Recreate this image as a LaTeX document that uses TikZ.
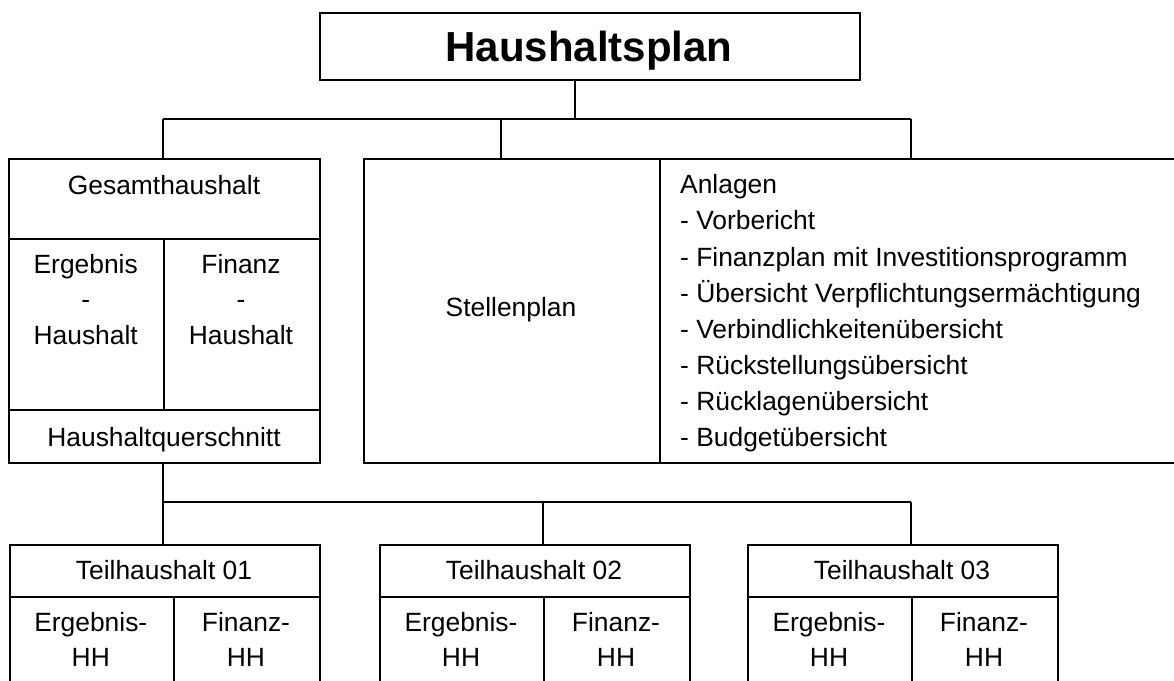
\documentclass[tikz,border=0pt]{standalone}
\usepackage{fontspec}
\setmainfont{Liberation Sans}
\tikzset{
  cell/.style={draw, line width=1.8pt, rectangle, inner sep=0pt, anchor=north west},
  conn/.style={line width=1.8pt},
  lbl/.style={inner sep=0pt, anchor=base, font=\fontsize{26.4}{32}\selectfont},
  lbll/.style={inner sep=0pt, anchor=base west, font=\fontsize{26.4}{32}\selectfont},
  ttl/.style={inner sep=0pt, anchor=base, font=\fontsize{42}{50}\selectfont\bfseries},
}
\begin{document}
\begin{tikzpicture}[x=1pt,y=-1pt]
\useasboundingbox (0,0) rectangle (1174,680);
% title
\node[cell, minimum width=540.3pt, minimum height=67.3pt] (title) at (319,12) {};
\node[ttl] (tTitle) at (589,61.7) {Haushaltsplan};
% Gesamthaushalt block
\node[cell, minimum width=310.7pt, minimum height=80pt]    (gtop) at (8.3,157.7) {};
\node[cell, minimum width=154.7pt, minimum height=171.3pt] (gl)   at (8.3,237.7) {};
\node[cell, minimum width=156pt,   minimum height=171.3pt] (gr)   at (163,237.7) {};
\node[cell, minimum width=310.7pt, minimum height=52.7pt]  (gbot) at (8.3,409) {};
\node[lbl] (tGes)  at (164,194.3) {Gesamthaushalt};
\node[lbl] (tEl1)  at (85.7,273.3) {Ergebnis};
\node[lbl] (tEl2)  at (85.7,308.7) {-};
\node[lbl] (tEl3)  at (85.7,344) {Haushalt};
\node[lbl] (tFr1)  at (241,273.3) {Finanz};
\node[lbl] (tFr2)  at (241,308.7) {-};
\node[lbl] (tFr3)  at (241,344) {Haushalt};
\node[lbl] (tQuer) at (164,446) {Haushaltquerschnitt};
% Stellenplan / Anlagen
\node[cell, minimum width=296.3pt, minimum height=304pt] (stell) at (362.7,157.7) {};
\node[cell, minimum width=530pt,   minimum height=304pt] (anl)   at (659,157.7) {};
\node[lbl] (tStell) at (511,316.7) {Stellenplan};
\node[lbll] (a0) at (680,193.8) {Anlagen};
\node[lbll] (a1) at (680,229.9) {- Vorbericht};
\node[lbll] (a2) at (680,266.0) {- Finanzplan mit Investitionsprogramm};
\node[lbll] (a3) at (680,302.1) {- Übersicht Verpflichtungsermächtigung};
\node[lbll] (a4) at (680,338.2) {- Verbindlichkeitenübersicht};
\node[lbll] (a5) at (680,374.3) {- Rückstellungsübersicht};
\node[lbll] (a6) at (680,410.4) {- Rücklagenübersicht};
\node[lbll] (a7) at (680,446.5) {- Budgetübersicht};
% Teilhaushalte
\node[cell, minimum width=310.6pt, minimum height=51.7pt] (t1top) at (8.7,544) {};
\node[cell, minimum width=164.3pt, minimum height=110pt]  (t1l)   at (8.7,595.7) {};
\node[cell, minimum width=146.3pt, minimum height=110pt]  (t1r)   at (173,595.7) {};
\node[cell, minimum width=310.3pt, minimum height=51.7pt] (t2top) at (379,544) {};
\node[cell, minimum width=164pt,   minimum height=110pt]  (t2l)   at (379,595.7) {};
\node[cell, minimum width=146.3pt, minimum height=110pt]  (t2r)   at (543,595.7) {};
\node[cell, minimum width=310.6pt, minimum height=51.7pt] (t3top) at (746.7,544) {};
\node[cell, minimum width=164.3pt, minimum height=110pt]  (t3l)   at (746.7,595.7) {};
\node[cell, minimum width=146.3pt, minimum height=110pt]  (t3r)   at (911,595.7) {};
\node[lbl] (tT1)  at (164,579.3) {Teilhaushalt 01};
\node[lbl] (tT1a) at (90.8,631.7) {Ergebnis-};
\node[lbl] (tT1b) at (90.8,666) {HH};
\node[lbl] (tT1c) at (246,631.7) {Finanz-};
\node[lbl] (tT1d) at (246,666) {HH};
\node[lbl] (tT2)  at (534,579.3) {Teilhaushalt 02};
\node[lbl] (tT2a) at (461,631.7) {Ergebnis-};
\node[lbl] (tT2b) at (461,666) {HH};
\node[lbl] (tT2c) at (616,631.7) {Finanz-};
\node[lbl] (tT2d) at (616,666) {HH};
\node[lbl] (tT3)  at (902,579.3) {Teilhaushalt 03};
\node[lbl] (tT3a) at (829,631.7) {Ergebnis-};
\node[lbl] (tT3b) at (829,666) {HH};
\node[lbl] (tT3c) at (984,631.7) {Finanz-};
\node[lbl] (tT3d) at (984,666) {HH};
% connectors, upper bus
\coordinate (up)  at (575,119);
\coordinate (b1l) at (163,119);
\coordinate (b1m) at (501,119);
\coordinate (b1r) at (911,119);
\draw[conn] (up |- title.south) -- (up);
\draw[conn] (b1l) -- (b1r);
\draw[conn] (b1l) -- (b1l |- gtop.north);
\draw[conn] (b1m) -- (b1m |- stell.north);
\draw[conn] (b1r) -- (b1r |- anl.north);
% connectors, lower bus
\coordinate (b2l) at (163,501.7);
\coordinate (b2m) at (543,501.7);
\coordinate (b2r) at (911,501.7);
\draw[conn] (b2l |- gbot.south) -- (b2l);
\draw[conn] (b2l) -- (b2r);
\draw[conn] (b2l) -- (b2l |- t1top.north);
\draw[conn] (b2m) -- (b2m |- t2top.north);
\draw[conn] (b2r) -- (b2r |- t3top.north);
\end{tikzpicture}
\end{document}
